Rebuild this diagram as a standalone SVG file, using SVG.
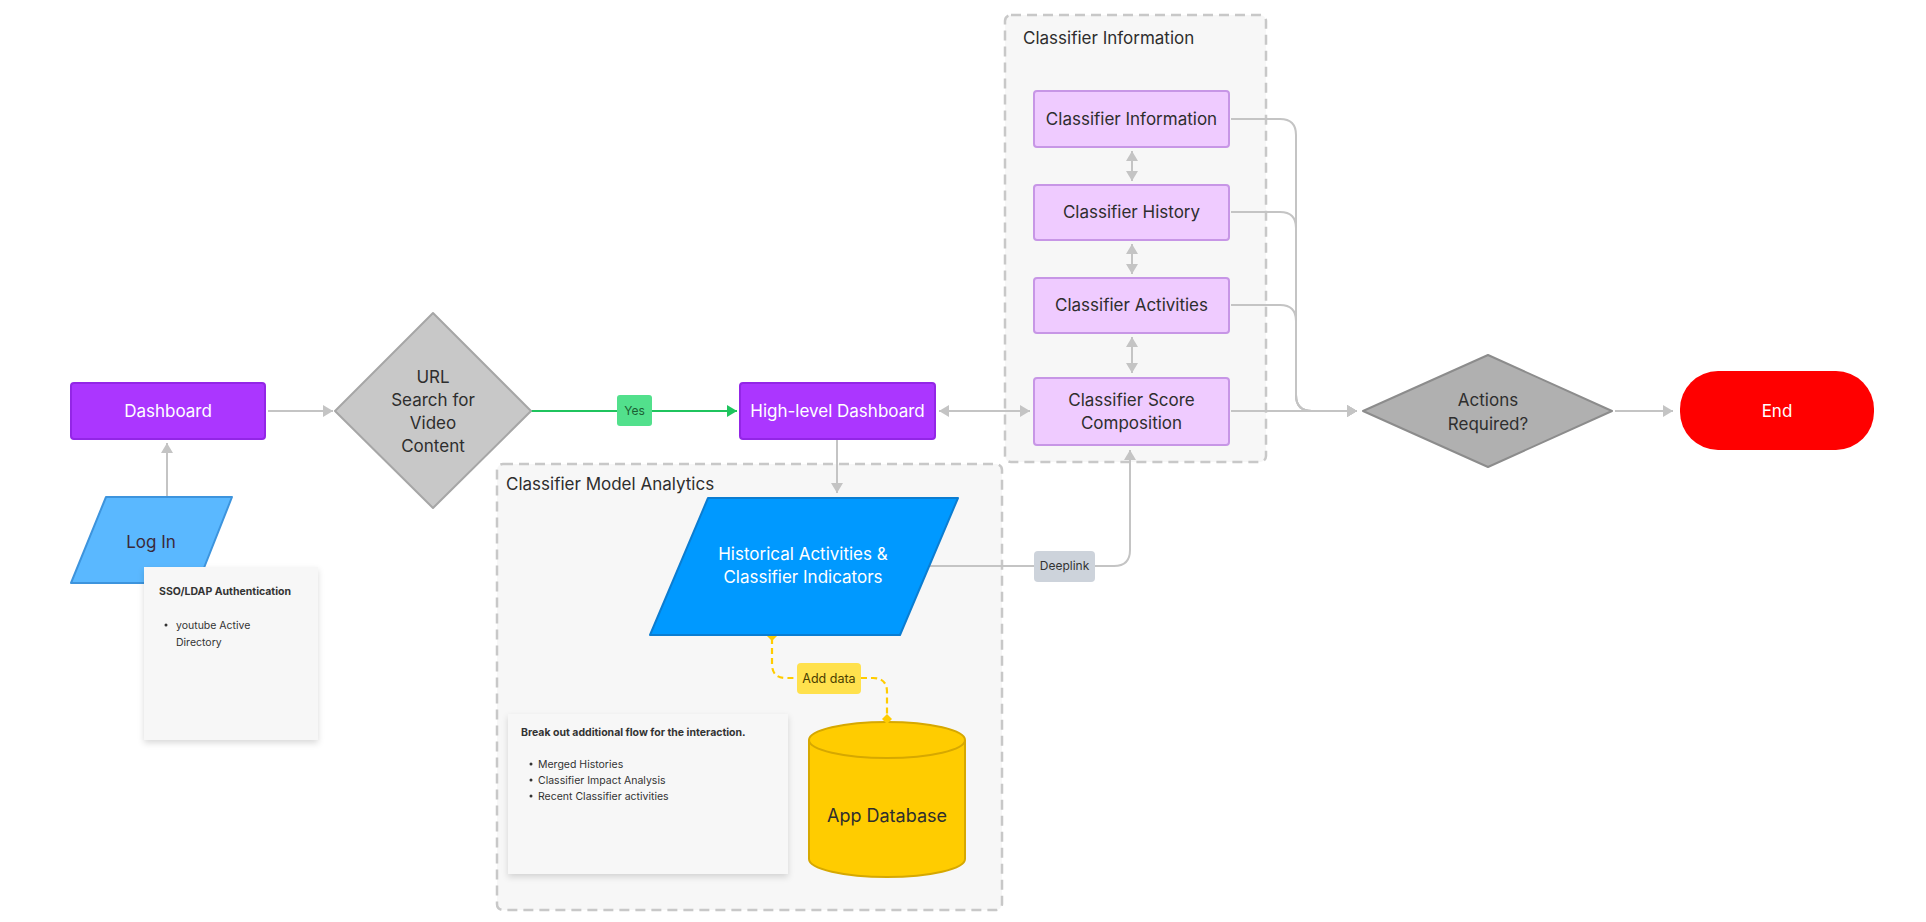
<svg xmlns="http://www.w3.org/2000/svg" width="1926" height="922" viewBox="0 0 1926 922">
<defs>
<style>
.t{font-family:Inter,"Noto Sans","Liberation Sans",sans-serif;}
.lbl{font-size:17px;text-anchor:middle;}
.w{fill:#ffffff;}
.d{fill:#2e2e2e;}
.grp{fill:#f7f7f7;stroke:#c8c8c8;stroke-width:2.5;stroke-dasharray:10 6;}
.purple{fill:#ab36ff;stroke:#9326e6;stroke-width:2;}
.cls{fill:#efcbff;stroke:#c796e6;stroke-width:2;}
.note{fill:#f7f7f7;}
.con{fill:none;stroke:#c4c4c4;stroke-width:2;}
.small{font-size:10.5px;fill:#333333;}
</style>
<marker id="ag" viewBox="0 0 10 12" refX="10" refY="6" markerWidth="10" markerHeight="12" markerUnits="userSpaceOnUse" orient="auto-start-reverse"><path d="M0,0 L10,6 L0,12 z" fill="#c4c4c4"/></marker>
<marker id="agr" viewBox="0 0 10 12" refX="10" refY="6" markerWidth="10" markerHeight="12" markerUnits="userSpaceOnUse" orient="auto"><path d="M0,0 L10,6 L0,12 z" fill="#1fc45e"/></marker>
<filter id="sh" x="-10%" y="-10%" width="120%" height="125%"><feDropShadow dx="0" dy="3" stdDeviation="3" flood-color="#000" flood-opacity="0.15"/></filter>
</defs>
<rect width="1926" height="922" fill="#ffffff"/>

<g id="group-classifier-info">
<rect class="grp" x="1005" y="15" width="261" height="447" rx="6"/>
<text class="t d" x="1023" y="44" font-size="17">Classifier Information</text>
</g>
<g id="group-model-analytics">
<rect class="grp" x="497" y="464" width="505" height="446" rx="6"/>
<text class="t d" x="506" y="490" font-size="17">Classifier Model Analytics</text>
</g>

<g id="connectors">
<path class="con" d="M268,411 H333" marker-end="url(#ag)"/>
<path class="con" d="M167,497 V443" marker-end="url(#ag)"/>
<path d="M531,411 H737" fill="none" stroke="#1fc45e" stroke-width="2" marker-end="url(#agr)"/>
<path class="con" d="M939,411 H1030" marker-start="url(#ag)" marker-end="url(#ag)"/>
<path class="con" d="M837,440 V493" marker-end="url(#ag)"/>
<path class="con" d="M929,566 H1114 Q1130,566 1130,550 V450" marker-end="url(#ag)"/>
<path class="con" d="M1132,151 V181" marker-start="url(#ag)" marker-end="url(#ag)"/>
<path class="con" d="M1132,244 V274" marker-start="url(#ag)" marker-end="url(#ag)"/>
<path class="con" d="M1132,337 V373" marker-start="url(#ag)" marker-end="url(#ag)"/>
<path class="con" d="M1231,119 H1280 Q1296,119 1296,135 V395 Q1296,411 1312,411 H1357" marker-end="url(#ag)"/>
<path class="con" d="M1231,212 H1280 Q1296,212 1296,228 V395 Q1296,411 1312,411 H1357" marker-end="url(#ag)"/>
<path class="con" d="M1231,305 H1280 Q1296,305 1296,321 V395 Q1296,411 1312,411 H1357" marker-end="url(#ag)"/>
<path class="con" d="M1231,411 H1357" marker-end="url(#ag)"/>
<path class="con" d="M1615,411 H1673" marker-end="url(#ag)"/>
<path d="M772,638 V664 Q772,678 786,678 H797 M861,678 H873 Q887,678 887,692 V719" fill="none" stroke="#ffcc00" stroke-width="2.2" stroke-dasharray="6 4"/>
<path d="M772,629 L778,635 L772,641 L766,635 z" fill="#ffcc00"/>
<g id="label-yes"><rect x="617" y="395" width="35" height="31" rx="3" fill="#52e08c"/><text class="t" x="634.5" y="415" font-size="12" text-anchor="middle" fill="#1b5e33">Yes</text></g>
<g id="label-deeplink"><rect x="1034" y="551" width="61" height="31" rx="4" fill="#cdd3db"/><text class="t" x="1064.5" y="570" font-size="12" text-anchor="middle" fill="#333333">Deeplink</text></g>
<g id="label-adddata"><rect x="797" y="663" width="64" height="31" rx="4" fill="#ffe14d"/><text class="t" x="829" y="683" font-size="12.5" text-anchor="middle" fill="#4a3d00">Add data</text></g>
</g>

<g id="node-dashboard">
<rect class="purple" x="71" y="383" width="194" height="56" rx="3"/>
<text class="t lbl w" x="168" y="417">Dashboard</text>
</g>
<g id="node-login">
<path d="M106,497 H232 L198,583 H71 Z" fill="#5ab8ff" stroke="#3d94dd" stroke-width="2" stroke-linejoin="round"/>
<text class="t lbl" x="151" y="548" fill="#3a2a3a">Log In</text>
</g>
<g id="note-sso">
<rect class="note" x="144" y="567" width="174" height="173" filter="url(#sh)"/>
<text class="t small" x="159" y="595" font-weight="bold">SSO/LDAP Authentication</text>
<circle cx="166" cy="625" r="1.5" fill="#333"/>
<text class="t small" x="176" y="629">youtube Active</text>
<text class="t small" x="176" y="646">Directory</text>
</g>
<g id="node-url">
<path d="M335,411 L433,313 L531,411 L433,508 Z" fill="#c8c8c8" stroke="#a6a6a6" stroke-width="2" stroke-linejoin="round"/>
<text class="t lbl d" x="433" y="383">URL</text>
<text class="t lbl d" x="433" y="406">Search for</text>
<text class="t lbl d" x="433" y="429">Video</text>
<text class="t lbl d" x="433" y="452">Content</text>
</g>
<g id="node-highlevel">
<rect class="purple" x="740" y="383" width="195" height="56" rx="3"/>
<text class="t lbl w" x="837.5" y="417">High-level Dashboard</text>
</g>
<g id="node-historical">
<path d="M708,498 H958 L900,635 H650 Z" fill="#0099ff" stroke="#0b7dd1" stroke-width="2" stroke-linejoin="round"/>
<text class="t lbl w" x="803" y="560">Historical Activities &amp;</text>
<text class="t lbl w" x="803" y="583">Classifier Indicators</text>
</g>
<g id="note-breakout">
<rect class="note" x="508" y="714" width="280" height="160" filter="url(#sh)"/>
<text class="t small" x="521" y="736" font-weight="bold">Break out additional flow for the interaction.</text>
<circle cx="531" cy="764" r="1.5" fill="#333"/>
<text class="t small" x="538" y="768">Merged Histories</text>
<circle cx="531" cy="780" r="1.5" fill="#333"/>
<text class="t small" x="538" y="784">Classifier Impact Analysis</text>
<circle cx="531" cy="796" r="1.5" fill="#333"/>
<text class="t small" x="538" y="800">Recent Classifier activities</text>
</g>
<g id="node-appdb">
<path d="M809,740 A78,18 0 0,1 965,740 V859 A78,18 0 0,1 809,859 Z" fill="#ffcc00" stroke="#d6a800" stroke-width="2"/>
<path d="M809,740 A78,18 0 0,0 965,740" fill="none" stroke="#d6a800" stroke-width="2"/>
<path d="M887,714 L892,719 L887,724 L882,719 z" fill="#ffcc00"/>
<text class="t d" x="887" y="822" font-size="18" text-anchor="middle">App Database</text>
</g>
<g id="node-cls-info">
<rect class="cls" x="1034" y="91" width="195" height="56" rx="3"/>
<text class="t lbl d" x="1131.5" y="125">Classifier Information</text>
</g>
<g id="node-cls-history">
<rect class="cls" x="1034" y="185" width="195" height="55" rx="3"/>
<text class="t lbl d" x="1131.5" y="218">Classifier History</text>
</g>
<g id="node-cls-activities">
<rect class="cls" x="1034" y="278" width="195" height="55" rx="3"/>
<text class="t lbl d" x="1131.5" y="311">Classifier Activities</text>
</g>
<g id="node-cls-score">
<rect class="cls" x="1034" y="378" width="195" height="67" rx="3"/>
<text class="t lbl d" x="1131.5" y="406">Classifier Score</text>
<text class="t lbl d" x="1131.5" y="429">Composition</text>
</g>
<g id="node-actions">
<path d="M1363,411 L1488,355 L1612,411 L1488,467 Z" fill="#b0b0b0" stroke="#8c8c8c" stroke-width="2" stroke-linejoin="round"/>
<text class="t lbl d" x="1488" y="406">Actions</text>
<text class="t lbl d" x="1488" y="430">Required?</text>
</g>
<g id="node-end">
<rect x="1680" y="371" width="194" height="79" rx="38" fill="#ff0000"/>
<text class="t lbl w" x="1777" y="417">End</text>
</g>
</svg>
